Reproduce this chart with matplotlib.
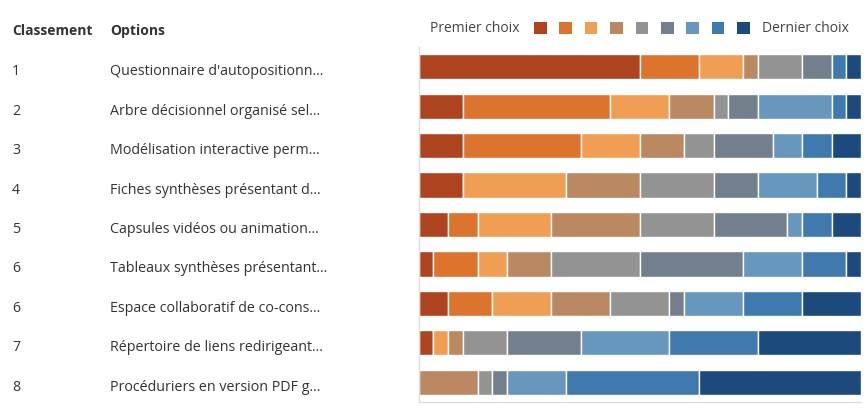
import matplotlib
matplotlib.use("Agg")
import matplotlib.pyplot as plt
from matplotlib.patches import Rectangle
import numpy as np

plt.rcParams['font.family'] = ['Open Sans', 'DejaVu Sans']

ranks = ["1", "2", "3", "4", "5", "6", "6", "7", "8"]
options = [
    "Questionnaire d'autopositionn...",
    "Arbre décisionnel organisé sel...",
    "Modélisation interactive perm...",
    "Fiches synthèses présentant d...",
    "Capsules vidéos ou animation...",
    "Tableaux synthèses présentant...",
    "Espace collaboratif de co-cons...",
    "Répertoire de liens redirigeant...",
    "Procéduriers en version PDF g...",
]
# counts of respondents per choice position (1st ... 9th)
choice1 = [15, 3, 3, 3, 2, 1, 2, 1, 0]
choice2 = [4, 10, 8, 0, 2, 3, 3, 0, 0]
choice3 = [3, 4, 4, 7, 5, 2, 4, 1, 0]
choice4 = [1, 3, 3, 5, 6, 3, 4, 1, 4]
choice5 = [3, 1, 2, 5, 5, 6, 4, 3, 1]
choice6 = [2, 2, 4, 3, 5, 7, 1, 5, 1]
choice7 = [0, 5, 2, 4, 1, 4, 4, 6, 4]
choice8 = [1, 1, 2, 2, 2, 3, 4, 6, 9]
choice9 = [1, 1, 2, 1, 2, 1, 4, 7, 11]
choices = [choice1, choice2, choice3, choice4, choice5, choice6, choice7, choice8, choice9]
colors = ["#AE441F", "#DC742E", "#F09E54", "#BA8962", "#939393",
          "#737F8C", "#6897BE", "#3F79AD", "#1C4A7C"]
legend_left = "Premier choix"
legend_right = "Dernier choix"
header_rank = "Classement"
header_opt = "Options"

W, H = 867, 411
fig = plt.figure(figsize=(W / 100, H / 100), dpi=100)
ax = fig.add_axes([418.5 / W, 1 - 402 / H, (861 - 418.5) / W, (402 - 47) / H])

y = np.arange(len(options))
left = np.zeros(len(options))
for vals, c in zip(choices, colors):
    vals = np.array(vals, dtype=float)
    ax.barh(y, vals, left=left, height=0.64, color=c, edgecolor="white", linewidth=1.0)
    left += vals

ax.set_xlim(0, left.max())
ax.set_ylim(len(options) - 0.5, -0.5)
ax.set_xticks([])
ax.set_yticks([])
for s in ["top", "right"]:
    ax.spines[s].set_visible(False)
for s in ["left", "bottom"]:
    ax.spines[s].set_color("#dddddd")
    ax.spines[s].set_linewidth(1.0)

txt_col = "#333333"
for i in range(len(options)):
    yy = ax.transData.transform((0, y[i]))[1]
    fy = (yy - 5) / H
    fig.text(12 / W, fy, ranks[i], ha="left", va="center", fontsize=10.2, color=txt_col)
    fig.text(110 / W, fy, options[i], ha="left", va="center", fontsize=10.3, color=txt_col)

fig.text(12 / W, 1 - 31 / H, header_rank, ha="left", va="center", fontsize=10,
         fontweight="bold", color=txt_col)
fig.text(110 / W, 1 - 31 / H, header_opt, ha="left", va="center", fontsize=10,
         fontweight="bold", color=txt_col)

# legend
fig.text(430 / W, 1 - 28 / H, legend_left, ha="left", va="center", fontsize=10, color="#444444")
x0 = 534
for k, c in enumerate(colors):
    fig.patches.append(Rectangle(((x0 + k * 25.4) / W, 1 - 34.5 / H), 12.5 / W, 12.5 / H,
                                 transform=fig.transFigure, facecolor=c, edgecolor="none"))
fig.text(762.5 / W, 1 - 28 / H, legend_right, ha="left", va="center", fontsize=10, color="#444444")

fig.savefig("out.png", dpi=100)
